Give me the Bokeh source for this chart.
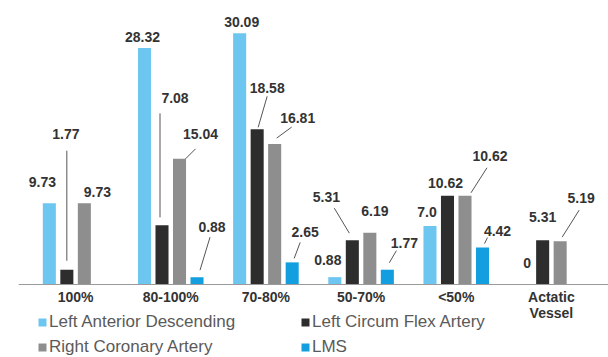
from bokeh.plotting import figure
from bokeh.models import FactorRange, Range1d, ColumnDataSource, Legend, LegendItem, Span
from bokeh.embed import file_html
from bokeh.resources import INLINE
from bokeh.core.properties import value

# ---------------- data ----------------
categories = ["100%", "80-100%", "70-80%", "50-70%", "<50%", "Actatic\nVessel"]
series_names = ["Left Anterior Descending", "Left Circum Flex Artery",
                "Right Coronary Artery", "LMS"]
lad = [9.73, 28.32, 30.09, 0.88, 7.0, 0]
lcx = [1.77, 7.08, 18.58, 5.31, 10.62, 5.31]
rca = [9.73, 15.04, 16.81, 6.19, 10.62, 5.19]
lms = [None, 0.88, 2.65, 1.77, 4.42, None]
series_values = [lad, lcx, rca, lms]

# ---------------- styling / layout ----------------
colors = ["#6cc6f0", "#2d2d2d", "#8e8e8e", "#139fdf"]
FONT = value("Liberation Sans")
W, H = 608, 357
LEFT = 18
BASE_PX = 284                      # baseline distance from top
FW = W - LEFT
XPAD = 0.1
YMAX = 34
pxx = FW / (len(categories) + 2 * XPAD)   # px per category unit
pxy = BASE_PX / YMAX                      # px per value unit
YMIN = -(H - BASE_PX) / pxy
slot_offsets = [-0.276, -0.092, 0.092, 0.276]
bar_w = 0.137

# label placement (pixel offsets from bar-top centre: dx, dy, leader line (x0,y0,x1,y1) or None)
label_layout = {
    (0, 0): (-7, -21, None), (1, 0): (-1, -136, (0, -119, 0, -9)), (2, 0): (13, -11, None),
    (0, 1): (-2, -11, None), (1, 1): (13, -127, (-2, -112, -2, -8)),
    (2, 1): (21, -25, (16, -10, 6, 0)), (3, 1): (15, -50, (13, -40, 3, -7)),
    (0, 2): (2, -11, None), (1, 2): (10, -41, (10, -33, 1, -2)),
    (2, 2): (23, -26, (17, -17, 2, -6)), (3, 2): (13, -30, (8, -20, 2, -4)),
    (0, 3): (-7, -17, None), (1, 3): (-26, -43, (-18, -32, -3, -7)),
    (2, 3): (5, -22, None), (3, 3): (17, -27, (9, -19, 2, -7)),
    (0, 4): (-3, -14, None), (1, 4): (-2, -13, None),
    (2, 4): (25, -40, (22, -28, 6, -3)), (3, 4): (15, -17, (5, -10, 2, -4)),
    (0, 5): (2, -22, None), (1, 5): (0, -23, None), (2, 5): (21, -43, (19, -31, 2, -4)),
}

p = figure(x_range=FactorRange(factors=categories, range_padding=XPAD,
                               range_padding_units="absolute"),
           y_range=Range1d(YMIN, YMAX), width=W, height=H,
           min_border_left=LEFT, min_border_right=0, min_border_top=0,
           min_border_bottom=0, output_backend="svg", toolbar_location=None)

renderers = []
lab = dict(x=[], y=[], t=[], dx=[], dy=[])
seg = dict(x0=[], y0=[], x1=[], y1=[])
for j, vals in enumerate(series_values):
    xs, tops = [], []
    for i, v in enumerate(vals):
        if v is None:
            continue
        bx = i + 0.5 + slot_offsets[j]
        xs.append(bx)
        tops.append(v)
        lay = label_layout.get((j, i))
        if lay is None:
            continue
        dx, dy, leader = lay
        lab["x"].append(bx); lab["y"].append(v); lab["t"].append(str(v))
        lab["dx"].append(dx); lab["dy"].append(dy)
        if leader:
            x0, y0, x1, y1 = leader
            seg["x0"].append(bx + x0 / pxx); seg["y0"].append(v - y0 / pxy)
            seg["x1"].append(bx + x1 / pxx); seg["y1"].append(v - y1 / pxy)
    src = ColumnDataSource(dict(x=xs, top=tops))
    r = p.vbar(x="x", top="top", bottom=0, width=bar_w, source=src,
               fill_color=colors[j], line_color=None)
    renderers.append(r)

p.segment(x0="x0", y0="y0", x1="x1", y1="y1", source=ColumnDataSource(seg),
          line_color="#555555", line_width=1)
p.text(x="x", y="y", text="t", x_offset="dx", y_offset="dy", source=ColumnDataSource(lab),
       text_align="center", text_baseline="middle", text_font=FONT,
       text_font_style="bold", text_font_size="14px", text_color="#333333")

# baseline and category labels
p.add_layout(Span(location=0, dimension="width", line_color="#9a9a9a", line_width=1))
cat_src = ColumnDataSource(dict(x=categories, y=[0] * len(categories), t=categories))
p.text(x="x", y="y", text="t", source=cat_src, y_offset=4,
       text_align="center", text_baseline="top", text_font=FONT, text_line_height=1.05,
       text_font_style="bold", text_font_size="14px", text_color="#333333")

p.xaxis.visible = False
p.yaxis.visible = False
p.xgrid.visible = False
p.ygrid.visible = False
p.outline_line_color = None

# legend is filled column by column: LAD, RCA | LCX, LMS
items = [LegendItem(label=series_names[k], renderers=[renderers[k]]) for k in (0, 2, 1, 3)]
legend = Legend(items=items, location=(19, 0), ncols=2, glyph_width=10, glyph_height=10,
                label_standoff=2, label_width=246, label_height=20, spacing=5,
                padding=0, margin=0, border_line_color=None, background_fill_alpha=0,
                label_text_font="Liberation Sans", label_text_font_size="17px",
                label_text_color="#5a5a5a")
p.add_layout(legend, "center")

open("out.html", "w").write(file_html(p, INLINE))
